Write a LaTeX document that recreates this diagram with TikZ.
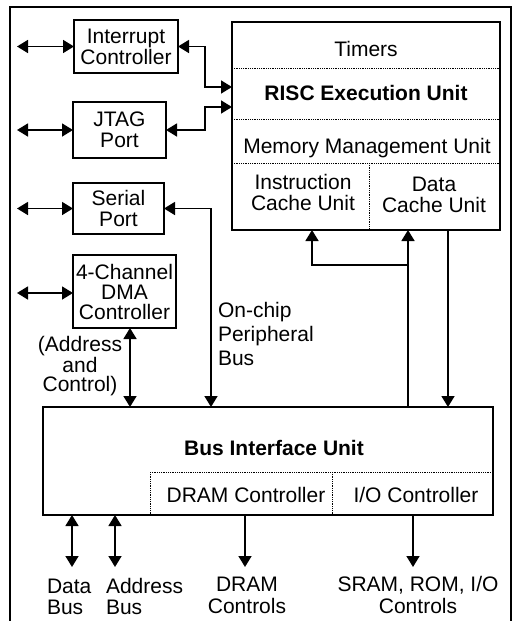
\documentclass[tikz,border=0pt]{standalone}
\usepackage{fontspec}
\setmainfont{Liberation Sans}
\usetikzlibrary{arrows.meta}
\begin{document}
\begin{tikzpicture}[x=1pt,y=-1pt,
  every node/.style={inner sep=0pt, outer sep=0pt},
  font=\fontsize{21}{21}\selectfont,
  bf/.style={font=\fontsize{21}{21}\selectfont\bfseries},
  box/.style={draw, line width=2.8pt, align=center},
  frame/.style={line width=1.6pt},
  dotline/.style={line width=0.9pt, dash pattern=on 0.9pt off 0.9pt},
  tip/.tip={Triangle[length=11pt,width=13pt]},
  arr/.style={line width=1.6pt, -tip},
  dbl/.style={line width=1.6pt, tip-tip}]
\useasboundingbox (0,0) rectangle (515,621);
% outer frame
\draw[frame] (10,640) -- (10,7) -- (511,7) -- (511,640);
% peripheral boxes
\node[box, minimum width=104, minimum height=53] (intc) at (126,46.5) {Interrupt\\Controller};
\node[box, minimum width=93, minimum height=56] (jtag) at (119.5,130) {JTAG\\Port};
\node[box, minimum width=91, minimum height=51] (serial) at (118.5,208.5) {Serial\\Port};
\node[box, minimum width=103, minimum height=73, font=\fontsize{21}{20}\selectfont] (dma) at (124.5,291.5) {4-Channel\\DMA\\Controller};
% RISC block
\node[box, minimum width=268, minimum height=208] (risc) at (366,126) {};
\draw[dotline] (risc.west |- 0,68) -- (risc.east |- 0,68);
\draw[dotline] (risc.west |- 0,119) -- (risc.east |- 0,119);
\draw[dotline] (risc.west |- 0,163) -- (risc.east |- 0,163);
\draw[dotline] (369,163) -- (risc.south -| 369,0);
\node[anchor=base] (tim) at (366,56) {Timers};
\node[anchor=base, bf] (reu) at (366,100) {RISC Execution Unit};
\node[anchor=base] (mmu) at (367,153) {Memory Management Unit};
\node[anchor=base, align=center, font=\fontsize{21}{21}\selectfont] (icu) at (303,210) {Instruction\\Cache Unit};
\node[anchor=base, align=center, font=\fontsize{21}{21}\selectfont] (dcu) at (434,212) {Data\\Cache Unit};
% Bus interface unit
\node[box, minimum width=450, minimum height=108] (biu) at (268,461) {};
\draw[dotline] (150,472) -- (biu.east |- 0,472);
\draw[dotline] (150,472) -- (biu.south -| 150,0);
\draw[dotline] (332,472) -- (biu.south -| 332,0);
\node[anchor=base, bf] (biut) at (274,455) {Bus Interface Unit};
\node[anchor=base] (dramc) at (246,502) {DRAM Controller};
\node[anchor=base] (ioc) at (416,502) {I/O Controller};
% labels
\node[anchor=base, align=center, font=\fontsize{21}{19}\selectfont] (addrctl) at (80,391) {(Address\\and\\Control)};
\node[anchor=base west, align=left, font=\fontsize{21}{24}\selectfont] (ocpb) at (218,365) {On-chip\\Peripheral\\Bus};
\node[anchor=base west, align=left] (datal) at (47,614) {Data\\Bus};
\node[anchor=base west, align=left] (addrl) at (106,614) {Address\\Bus};
\node[anchor=base, align=center, font=\fontsize{21}{22}\selectfont] (draml) at (247,613) {DRAM\\Controls};
\node[anchor=base, align=center, font=\fontsize{21}{22}\selectfont] (sraml) at (418,613) {SRAM, ROM, I/O\\Controls};
% free ends
\coordinate (l1) at (17,46.5);
\coordinate (l2) at (17,130);
\coordinate (l3) at (17,208.5);
\coordinate (l4) at (17,293);
\coordinate (b1) at (72,567);
\coordinate (b2) at (115,567);
\coordinate (b3) at (245,567);
\coordinate (b4) at (413,567);
\coordinate (k1) at (205,87);
\coordinate (k2) at (205,107);
\coordinate (k3) at (408,265);
% connectors
\draw[dbl] (l1) -- (intc.west);
\draw[dbl] (l2) -- (jtag.west);
\draw[dbl] (l3) -- (serial.west);
\draw[dbl] (l4) -- (l4 -| dma.west);
\draw[dbl] (intc.east) -| (k1) -- (risc.west |- k1);
\draw[dbl] (jtag.east) -| (k2) -- (risc.west |- k2);
\draw[dbl] (serial.east) -| (biu.north -| 211,0);
\draw[dbl] (dma.south -| 130,0) -- (biu.north -| 130,0);
\draw[arr] (biu.north -| k3) -- (risc.south -| k3);
\draw[arr] (k3) -| (risc.south -| 312,0);
\draw[arr] (risc.south -| 448,0) -- (biu.north -| 448,0);
\draw[dbl] (biu.south -| b1) -- (b1);
\draw[dbl] (biu.south -| b2) -- (b2);
\draw[arr] (biu.south -| b3) -- (b3);
\draw[arr] (biu.south -| b4) -- (b4);
\end{tikzpicture}
\end{document}
